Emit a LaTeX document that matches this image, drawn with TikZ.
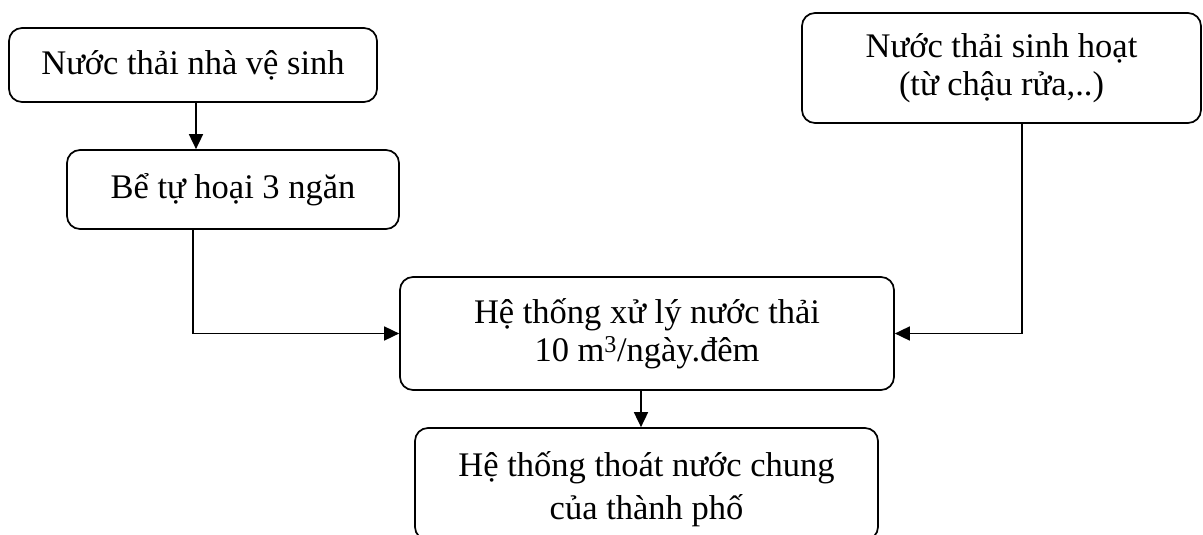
\documentclass[tikz,border=0pt]{standalone}
\usepackage{fontspec}
\setmainfont{Liberation Serif}
\usetikzlibrary{arrows.meta}
\begin{document}
\begin{tikzpicture}[x=1pt,y=-1pt,
  box/.style={draw,line width=1.7pt,rounded corners=13pt,inner sep=0pt,
    align=center,font=\fontsize{34.5}{38}\selectfont},
  flow/.style={line width=1.7pt,-{Triangle[length=15pt,width=14pt]}}]
  \useasboundingbox (0,0) rectangle (1203,535);
  % process boxes
  \node[box,minimum width=368pt,minimum height=74pt] (toilet) at (193,65) {Nước thải nhà vệ sinh};
  \node[box,minimum width=332pt,minimum height=79pt] (septic) at (233,189.5) {Bể tự hoại 3 ngăn};
  \node[box,minimum width=399pt,minimum height=110pt] (domestic) at (1001.5,68) {Nước thải sinh hoạt\\(từ chậu rửa,..)};
  \node[box,minimum width=494pt,minimum height=113pt] (plant) at (647,333.5) {Hệ thống xử lý nước thải\\10 m\textsuperscript{3}/ngày.đêm};
  % extra room above the text lowers it a little inside the box
  \node[box,minimum width=463pt,minimum height=112pt] (sewer) at (646.5,484)
    {\raisebox{0pt}[\dimexpr\height+12pt\relax]{\begin{tabular}{@{}c@{}}Hệ thống thoát nước chung\\[5pt]của thành phố\end{tabular}}};
  % connector columns
  \coordinate (c1) at (196,0);
  \coordinate (c2) at (193,0);
  \coordinate (c3) at (1022,0);
  \coordinate (c4) at (641,0);
  \draw[flow] (toilet.south -| c1) -- (septic.north -| c1);
  \draw[flow] (septic.south -| c2) |- (plant.west);
  \draw[flow] (domestic.south -| c3) |- (plant.east);
  \draw[flow] (plant.south -| c4) -- (sewer.north -| c4);
\end{tikzpicture}
\end{document}
